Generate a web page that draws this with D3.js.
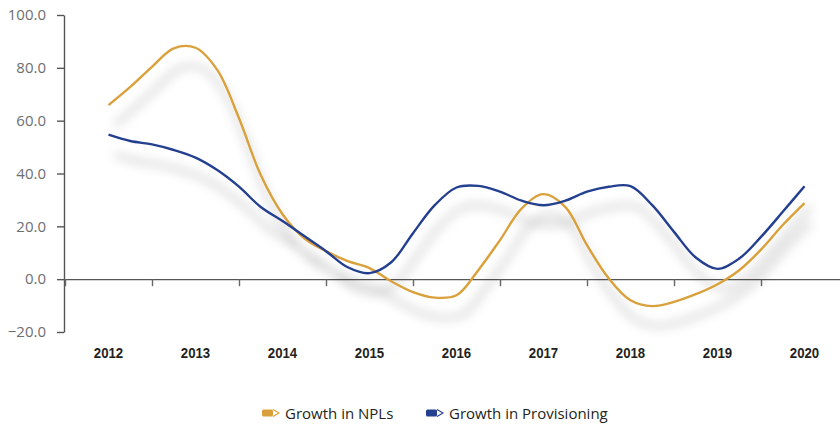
<!DOCTYPE html>
<html>
<head>
<meta charset="utf-8">
<script src="https://cdn.jsdelivr.net/npm/d3@7"></script>
<style>
  html, body { margin: 0; padding: 0; background: #fff; }
  svg { display: block; }
</style>
</head>
<body>
<svg id="chart" width="840" height="428"></svg>
<script>
// Year categories shown under the axis
const years = [2012, 2013, 2014, 2015, 2016, 2017, 2018, 2019, 2020];
// Quarterly observations, 2012 to 2020 (fractional year)
const periods = d3.range(0, 33).map(i => 2012 + i * 0.25);
// Growth in NPLs (%)
const nplGrowth = [65.9, 72.8, 80.4, 87.4, 87.6, 79.2, 60.9, 39.4, 24.6, 15.5, 10.6, 6.8, 4.2, -0.8, -4.9, -7.0,
  -6.1, 3.4, 14.8, 26.8, 32.2, 27.4, 12.9, 0.3, -8.0, -10.2, -8.6, -5.7, -1.9, 3.4, 11.2, 20.5, 28.8];
// Growth in provisioning (%)
const provGrowth = [54.7, 52.3, 51.0, 48.9, 46.0, 41.3, 35.0, 27.3, 22.0, 16.3, 10.6, 4.5, 2.3, 6.4, 17.4, 28.0,
  34.7, 35.3, 33.1, 29.7, 28.0, 29.7, 33.1, 35.0, 35.2, 28.0, 17.9, 8.2, 3.9, 7.8, 16.0, 25.5, 35.2];
const yTicks = [-20, 0, 20, 40, 60, 80, 100];
const seriesNames = ["Growth in NPLs", "Growth in Provisioning"];
const seriesColors = ["#D9A03B", "#243F8F"];

const svg = d3.select("#chart");

const x = d3.scaleLinear().domain([2011.5, 2020.5]).range([65, 848]);
const y = d3.scaleLinear().domain([-20, 100]).range([332, 15]);

// Soft drop shadow under the lines
const defs = svg.append("defs");
const f = defs.append("filter").attr("id", "lineShadow")
  .attr("x", "-10%").attr("y", "-20%").attr("width", "130%").attr("height", "160%");
f.append("feGaussianBlur").attr("in", "SourceAlpha").attr("stdDeviation", 5.5).attr("result", "blur");
f.append("feOffset").attr("in", "blur").attr("dx", 6).attr("dy", 20).attr("result", "off");
f.append("feFlood").attr("flood-color", "#000").attr("flood-opacity", 0.34).attr("result", "col");
f.append("feComposite").attr("in", "col").attr("in2", "off").attr("operator", "in").attr("result", "shadow");
const m = f.append("feMerge");
m.append("feMergeNode").attr("in", "shadow");
m.append("feMergeNode").attr("in", "SourceGraphic");

// Y axis
const yAxis = svg.append("g")
  .attr("transform", `translate(${x.range()[0] - 1},0)`)
  .call(d3.axisLeft(y).tickValues(yTicks).tickFormat(d3.format(".1f")).tickSize(7).tickSizeOuter(0));
yAxis.select(".domain").attr("stroke", "#555").attr("stroke-width", 1.4);
yAxis.selectAll(".tick line").attr("stroke", "#555").attr("stroke-width", 1.4);
yAxis.selectAll(".tick text")
  .attr("x", -18)
  .attr("fill", "#6d6e71")
  .style("font-family", "'Open Sans', 'Noto Sans', sans-serif")
  .style("font-size", "15px");

// X axis along zero, with ticks between years
const xAxis = svg.append("g")
  .attr("transform", `translate(0,${y(0)})`)
  .call(d3.axisBottom(x).tickValues(d3.range(2011.5, 2020, 1)).tickFormat("").tickSize(7).tickSizeOuter(0));
xAxis.select(".domain").attr("stroke", "#555").attr("stroke-width", 1.4);
xAxis.selectAll(".tick line").attr("stroke", "#666").attr("stroke-width", 1.4);

// Year labels (bold, slightly condensed)
svg.append("g").selectAll("text")
  .data(years)
  .join("text")
  .attr("transform", d => `translate(${x(d)},358) scale(0.88,1)`)
  .attr("text-anchor", "middle")
  .attr("fill", "#231f20")
  .style("font-family", "'Liberation Sans', Arial, sans-serif")
  .style("font-weight", "bold")
  .style("font-size", "15px")
  .text(d => d);

// Lines
const line = d3.line()
  .x((d, i) => x(periods[i]))
  .y(d => y(d))
  .curve(d3.curveCatmullRom.alpha(0.5));

const lines = svg.append("g").attr("filter", "url(#lineShadow)");
[nplGrowth, provGrowth].forEach((vals, k) => {
  lines.append("path")
    .datum(vals)
    .attr("d", line)
    .attr("fill", "none")
    .attr("stroke", seriesColors[k])
    .attr("stroke-width", 2.4)
    .attr("stroke-linejoin", "round");
});

// Legend
const legendItems = [{ x: 262 }, { x: 426 }];
const legend = svg.append("g");
legendItems.forEach((it, k) => {
  const g = legend.append("g").attr("transform", `translate(${it.x},413)`);
  // pencil-shaped key: body plus outlined tip
  g.append("rect").attr("x", 0).attr("y", -3.5).attr("width", 11).attr("height", 7).attr("rx", 1.5)
    .attr("fill", seriesColors[k]);
  g.append("path").attr("d", "M11,-3.5 L17,0 L11,3.5")
    .attr("fill", "#fff").attr("stroke", seriesColors[k]).attr("stroke-width", 1.1);
  g.append("text")
    .attr("x", 23).attr("y", 5.5)
    .attr("fill", "#231f20")
    .style("font-family", "'Open Sans', 'Noto Sans', sans-serif")
    .style("font-size", "15px")
    .text(seriesNames[k]);
});
</script>
</body>
</html>
